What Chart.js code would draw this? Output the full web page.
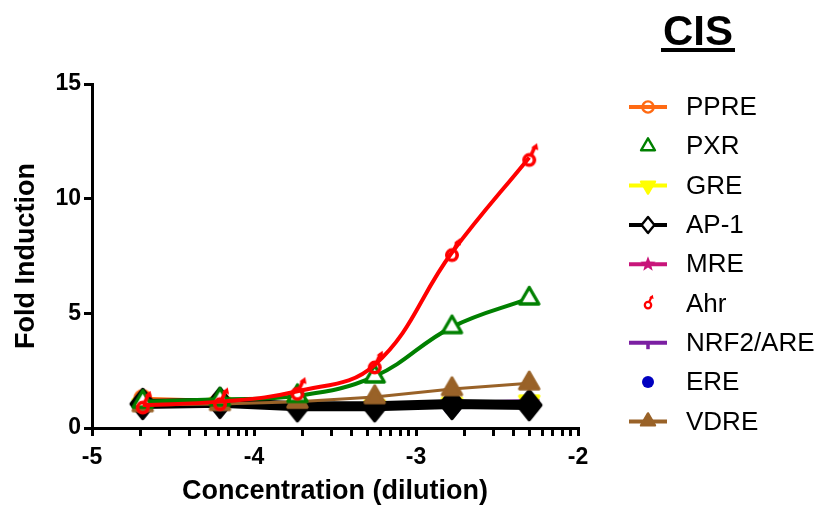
<!DOCTYPE html>
<html>
<head>
<meta charset="utf-8">
<title>CIS</title>
<script src="https://cdn.jsdelivr.net/npm/chart.js@4.4.1/dist/chart.umd.min.js"></script>
<style>
  body { margin: 0; background: #fff; }
  canvas { display: block; }
</style>
</head>
<body>
<canvas id="myChart" width="819" height="508"></canvas>
<script>
// log10 of the dilution, 3-fold series from 1/200 down
var dilutions = [-4.687, -4.210, -3.732, -3.255, -2.778, -2.301];
var xTickValues = [-5, -4, -3, -2];
var yTickValues = [0, 5, 10, 15];
var panelTitle = "CIS";

var ppre = [1.3, 1.2, 1.05, 1.0, 1.05, 1.05];
var pxr  = [1.15, 1.25, 1.4, 2.25, 4.4, 5.65];
var gre  = [1.0, 1.05, 0.95, 0.95, 1.05, 1.15];
var ap1  = [1.05, 1.1, 0.95, 0.95, 1.05, 1.0];
var mre  = [1.1, 1.1, 1.0, 1.0, 1.1, 1.1];
var ahr  = [1.0, 1.15, 1.6, 2.75, 7.65, 11.8];
var nrf2 = [1.0, 1.0, 0.95, 1.0, 1.1, 1.2];
var ere  = [0.95, 0.95, 0.9, 0.9, 0.9, 0.95];
var vdre = [1.0, 1.05, 1.15, 1.35, 1.7, 1.95];

function pts(ys){
    var out = [];
    for (var i = 0; i < ys.length; i++) {
        out.push({x: dilutions[i], y: ys[i]});
    }
    return out;
}

function tri(ctx, r, dir){
    ctx.moveTo(0, -dir * r);
    ctx.lineTo(r * 0.87, dir * r * 0.5);
    ctx.lineTo(-r * 0.87, dir * r * 0.5);
    ctx.closePath();
}

// draws one of the prism-like symbols centred on x,y
function drawSym(ctx, type, x, y, r, color){
    ctx.save();
    ctx.translate(x, y);
    ctx.strokeStyle = color;
    ctx.fillStyle = color;
    ctx.lineWidth = Math.max(2, r * 0.3);
    ctx.lineJoin = "round";
    ctx.lineCap = "round";
    ctx.beginPath();
    if (type == "ring") {
        ctx.arc(0, 0, r * 0.7, 0, 2 * Math.PI);
        ctx.stroke();
    } else if (type == "triOpen") {
        tri(ctx, r, 1);
        ctx.fillStyle = "#fff";
        ctx.fill();
        ctx.stroke();
    } else if (type == "triUp") {
        tri(ctx, r, 1);
        ctx.fill();
        ctx.stroke();
    } else if (type == "triDown") {
        tri(ctx, r, -1);
        ctx.fill();
        ctx.stroke();
    } else if (type == "diamondOpen" || type == "diamond") {
        ctx.moveTo(0, -r);
        ctx.lineTo(r * 0.8, 0);
        ctx.lineTo(0, r);
        ctx.lineTo(-r * 0.8, 0);
        ctx.closePath();
        if (type == "diamondOpen") ctx.fillStyle = "#fff";
        ctx.fill();
        ctx.stroke();
    } else if (type == "star") {
        for (var k = 0; k < 10; k++) {
            var rr = k % 2 == 0 ? r : r * 0.42;
            var a = -Math.PI / 2 + k * Math.PI / 5;
            if (k == 0) ctx.moveTo(rr * Math.cos(a), rr * Math.sin(a));
            else ctx.lineTo(rr * Math.cos(a), rr * Math.sin(a));
        }
        ctx.closePath();
        ctx.fill();
    } else if (type == "dot") {
        ctx.arc(0, 0, r * 0.75, 0, 2 * Math.PI);
        ctx.fill();
    } else if (type == "tee") {
        ctx.fillRect(-r * 0.9, -r * 0.15, r * 1.8, r * 0.3);
        ctx.fillRect(-r * 0.22, 0, r * 0.44, r * 0.8);
    } else if (type == "ahr") {
        ctx.lineWidth = Math.max(2, r * 0.28);
        ctx.arc(0, r * 0.2, r * 0.4, 0, 2 * Math.PI);
        ctx.stroke();
        ctx.beginPath();
        ctx.moveTo(r * 0.15, -r * 0.2);
        ctx.lineTo(r * 0.4, -r * 0.75);
        ctx.stroke();
        ctx.beginPath();
        ctx.moveTo(r * 0.15, -r * 0.75);
        ctx.lineTo(r * 0.6, -r * 1.1);
        ctx.lineTo(r * 0.7, -r * 0.55);
        ctx.closePath();
        ctx.fill();
    }
    ctx.restore();
}

function makeImg(type, r, color){
    var c = document.createElement("canvas");
    var size = Math.ceil(r * 2.4 + 8);
    c.width = size;
    c.height = size;
    drawSym(c.getContext("2d"), type, size / 2, size / 2, r, color);
    return c;
}

var series = [
    {label: "PPRE",     data: ppre, color: "#FF6A13", sym: "ring",    size: 11, line: true,  curve: false, order: 5},
    {label: "PXR",      data: pxr,  color: "#008000", sym: "triOpen", size: 11, line: false, curve: true,  order: 1},
    {label: "GRE",      data: gre,  color: "#FFFF00", sym: "triDown", size: 11, line: true,  curve: false, order: 6},
    {label: "AP-1",     data: ap1,  color: "#000000", sym: "diamondOpen", size: 14, line: true, curve: false, order: 3},
    {label: "MRE",      data: mre,  color: "#C8157A", sym: "star",    size: 11, line: true,  curve: false, order: 7},
    {label: "Ahr",      data: ahr,  color: "#FF0000", sym: "ahr",     size: 13, line: false, curve: true,  order: 0},
    {label: "NRF2/ARE", data: nrf2, color: "#7B1FA2", sym: "tee",     size: 11, line: true,  curve: false, order: 8},
    {label: "ERE",      data: ere,  color: "#0000C0", sym: "dot",     size: 11, line: false, curve: false, order: 9},
    {label: "VDRE",     data: vdre, color: "#996228", sym: "triUp",   size: 11, line: true,  curve: false, order: 2}
];

var datasets = [];
for (var i = 0; i < series.length; i++) {
    var s = series[i];
    var isAp1 = s.label == "AP-1";
    datasets.push({
        label: s.label,
        data: pts(s.data),
        borderColor: s.color,
        backgroundColor: s.color,
        borderWidth: isAp1 ? 10 : (s.curve ? 4 : 3),
        pointStyle: makeImg(isAp1 ? "diamond" : s.sym, s.size, s.color),
        pointRadius: 9,
        tension: s.curve ? 0.4 : 0,
        order: s.order,
        legendSym: s.sym,
        legendLine: s.line
    });
}

var sideLegend = {
    id: "sideLegend",
    afterDraw: function(chart){
        var ctx = chart.ctx;
        ctx.save();
        ctx.fillStyle = "#000";
        ctx.font = "bold 42px 'Liberation Sans Narrow', 'Liberation Sans', Arial";
        ctx.textAlign = "center";
        ctx.textBaseline = "alphabetic";
        ctx.fillText(panelTitle, 698, 45);
        var w = ctx.measureText(panelTitle).width;
        ctx.fillRect(698 - w / 2 - 2, 48, w + 4, 4);

        ctx.textAlign = "left";
        ctx.textBaseline = "middle";
        ctx.font = "26px 'Liberation Sans', Arial";
        chart.data.datasets.forEach(function(ds, i){
            var y = 107 + i * 39.3;
            if (ds.legendLine) {
                ctx.strokeStyle = ds.borderColor;
                ctx.lineWidth = 4;
                ctx.beginPath();
                ctx.moveTo(629, y);
                ctx.lineTo(667, y);
                ctx.stroke();
            }
            drawSym(ctx, ds.legendSym, 648, y, 8, ds.borderColor);
            ctx.fillStyle = "#000";
            ctx.fillText(ds.label, 686, y + 1);
        });
        ctx.restore();
    }
};

var axisFont = {family: "'Liberation Sans', Arial", size: 27, weight: "bold"};
var tickFont = {family: "'Liberation Sans', Arial", size: 23, weight: "bold"};

var chart = new Chart(document.getElementById("myChart"), {
    type: "line",
    data: {datasets: datasets},
    plugins: [sideLegend],
    options: {
        responsive: false,
        animation: false,
        layout: {padding: {top: 84, right: 241, left: 0, bottom: 0}},
        plugins: {
            legend: {display: false},
            tooltip: {enabled: false}
        },
        scales: {
            x: {
                type: "linear",
                min: -5,
                max: -2,
                afterBuildTicks: function(scale){
                    var t = [];
                    for (var d = 0; d < xTickValues.length; d++) {
                        t.push({value: xTickValues[d]});
                        if (d < xTickValues.length - 1) {
                            for (var k = 2; k <= 9; k++) {
                                t.push({value: xTickValues[d] + Math.log10(k)});
                            }
                        }
                    }
                    scale.ticks = t;
                },
                afterFit: function(scale){ scale.height = 80; },
                ticks: {
                    autoSkip: false,
                    maxRotation: 0,
                    color: "#000",
                    font: tickFont,
                    padding: 8,
                    callback: function(value){
                        return Math.abs(value - Math.round(value)) < 1e-6 ? String(Math.round(value)) : "";
                    }
                },
                grid: {drawOnChartArea: false, drawTicks: true, tickLength: 8, color: "#000", lineWidth: 3},
                border: {display: true, color: "#000", width: 3},
                title: {display: true, text: "Concentration (dilution)", color: "#000", font: axisFont, padding: {top: 0, bottom: 0}}
            },
            y: {
                min: 0,
                max: 15,
                afterBuildTicks: function(scale){
                    scale.ticks = yTickValues.map(function(v){ return {value: v}; });
                },
                afterFit: function(scale){ scale.width = 92; },
                ticks: {color: "#000", font: tickFont, padding: 3},
                grid: {drawOnChartArea: false, drawTicks: true, tickLength: 8, color: "#000", lineWidth: 3},
                border: {display: true, color: "#000", width: 3},
                title: {display: true, text: "Fold Induction", color: "#000", font: axisFont, padding: {top: 10, bottom: 0}}
            }
        }
    }
});
</script>
</body>
</html>
